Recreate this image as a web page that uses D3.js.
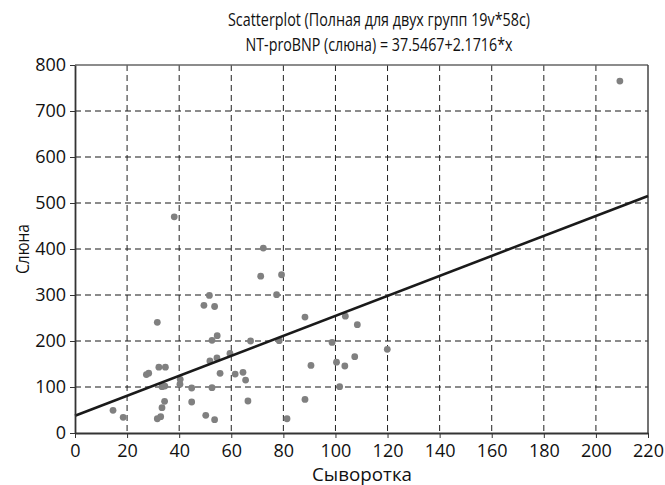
<!DOCTYPE html>
<html><head><meta charset="utf-8">
<script src="https://cdn.jsdelivr.net/npm/d3@7"></script>
<style>body{margin:0;background:#fff;} text{font-family:"Open Sans","Noto Sans",sans-serif;fill:#111;}</style>
</head><body>
<svg id="c" width="665" height="485"></svg>
<script>
const titleLines = ["Scatterplot (Полная для двух групп 19v*58c)", "NT-proBNP (слюна) = 37.5467+2.1716*x"];
const xLabel = "Сыворотка";
const yLabel = "Слюна";
const xTicks = [0,20,40,60,80,100,120,140,160,180,200,220];
const yTicks = [0,100,200,300,400,500,600,700,800];
const intercept = 37.5467, slope = 2.1716;
const xs = [38.1,72.3,71.3,51.6,49.5,53.6,31.6,52.6,54.6,67.4,59.5,51.8,54.5,55.7,61.5,64.5,65.5,66.4,27.4,28.3,32.2,34.7,33.4,34.5,40.4,40.3,44.8,52.6,34.4,33.4,44.8,14.6,18.5,31.6,32.9,50.2,53.6,
  79.3,77.4,88.3,103.8,108.4,78.4,98.7,119.9,90.6,100.4,103.6,107.4,101.6,88.3,81.4,209.2];
const ys = [470,402,341,299,277.5,275,240.6,201.5,211.5,200,173,156.5,163,129.7,128,132,115,69.6,127,130,143,143,100.7,102,116.7,106,97.8,98.5,68.8,55,67.4,49.3,34,31,35.5,38.4,29,
  344,300.7,252,254,235.5,200.7,197,182,147,154,145.6,166,100.7,73,31,765];

const svg = d3.select("#c");
const L=75,R=648,T=65,B=433;
const x = d3.scaleLinear().domain([0,220]).range([L,R]);
const y = d3.scaleLinear().domain([0,800]).range([B,T]);

// grid
svg.append("g").selectAll("line").data(yTicks.filter(d=>d>0&&d<800)).join("line")
  .attr("x1",L).attr("x2",R).attr("y1",d=>y(d)).attr("y2",d=>y(d))
  .attr("stroke","#666").attr("stroke-width",1.3).attr("stroke-dasharray","6,4");
svg.append("g").selectAll("line").data(xTicks.filter(d=>d>0&&d<220)).join("line")
  .attr("y1",T).attr("y2",B).attr("x1",d=>x(d)).attr("x2",d=>x(d))
  .attr("stroke","#222").attr("stroke-width",1).attr("stroke-dasharray","6,4");

// frame
svg.append("line").attr("x1",L).attr("x2",R).attr("y1",T).attr("y2",T).attr("stroke","#666").attr("stroke-width",1.5);
svg.append("line").attr("x1",R).attr("x2",R).attr("y1",T).attr("y2",B).attr("stroke","#444").attr("stroke-width",1.5);

// points
svg.append("g").selectAll("circle").data(xs.map((v,i)=>[v,ys[i]])).join("circle")
  .attr("cx",d=>x(d[0])).attr("cy",d=>y(d[1])).attr("r",3.4).attr("fill","#808080");

// regression line
svg.append("line").attr("x1",x(0)).attr("y1",y(intercept)).attr("x2",x(220)).attr("y2",y(intercept+slope*220))
  .attr("stroke","#1a1a1a").attr("stroke-width",2.6);

// axes
const xa = svg.append("g").attr("transform",`translate(0,${B})`)
  .call(d3.axisBottom(x).tickValues(xTicks).tickSize(5).tickSizeOuter(0));
const ya = svg.append("g").attr("transform",`translate(${L},0)`)
  .call(d3.axisLeft(y).tickValues(yTicks).tickSize(5).tickSizeOuter(0));
[xa,ya].forEach(a=>{
  a.select(".domain").attr("stroke","#333").attr("stroke-width",1.8);
  a.selectAll(".tick line").attr("stroke","#333");
  a.selectAll(".tick text").attr("font-size",18).attr("font-family","Open Sans").attr("fill","#111");
});
xa.selectAll(".tick text").attr("dy","0.9em");
ya.selectAll(".tick text").attr("dx","-0.05em");

// titles
svg.append("text").attr("x",379).attr("y",26).attr("text-anchor","middle").attr("font-size",17.5)
  .attr("textLength",302).attr("lengthAdjust","spacingAndGlyphs").text(titleLines[0]);
svg.append("text").attr("x",379).attr("y",51).attr("text-anchor","middle").attr("font-size",17.5)
  .attr("textLength",267).attr("lengthAdjust","spacingAndGlyphs").text(titleLines[1]);
svg.append("text").attr("x",362).attr("y",481).attr("text-anchor","middle").attr("font-size",18.5)
  .attr("textLength",100).attr("lengthAdjust","spacingAndGlyphs").text(xLabel);
svg.append("text").attr("transform","translate(29,249) rotate(-90)").attr("text-anchor","middle").attr("font-size",18.5)
  .attr("textLength",50).attr("lengthAdjust","spacingAndGlyphs").text(yLabel);
</script>
</body></html>
